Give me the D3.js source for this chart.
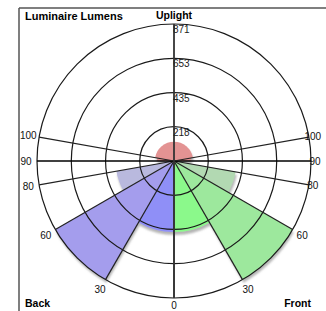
<!DOCTYPE html>
<html>
<head>
<meta charset="utf-8">
<script src="https://cdn.jsdelivr.net/npm/d3@7"></script>
<style>
  body { margin: 0; background: #fff; }
  svg text { font-family: "Liberation Sans", Arial, sans-serif; }
</style>
</head>
<body>
<svg id="chart" width="326" height="311"></svg>
<script>
// LCS zones, angles measured from nadir (0 = straight down)
var downBands = [[0, 30], [30, 60], [60, 80], [80, 90]];
var backLumens = [452, 871, 372, 0];     // BL, BM, BH, BVH
var frontLumens = [452, 871, 398, 0];    // FL, FM, FH, FVH
var upBands = [[90, 100], [100, 180]];
var upLumens = [108, 122];               // UL, UH
var backColors = ["#8f8ff7", "#a49ded", "#b9b9de", "#c8c8e8"];
var frontColors = ["#8bf98b", "#9de89d", "#b2d9b2", "#c8e8c8"];
var upColor = "#e39393";

var ringTicks = [218, 435, 653, 871];
var angleTicks = [0, 30, 60, 80, 90, 100];

var cx = 174, cy = 161, R = 137;
var svg = d3.select("#chart");

var r = d3.scaleLinear().domain([0, 871]).range([0, R]);
var rad = function(deg) { return deg * Math.PI / 180; };

// drop shadow like the original
var defs = svg.append("defs");
var f = defs.append("filter").attr("id", "shadow")
    .attr("x", "-20%").attr("y", "-20%").attr("width", "140%").attr("height", "140%");
f.append("feGaussianBlur").attr("in", "SourceAlpha").attr("stdDeviation", 0.8).attr("result", "b");
f.append("feOffset").attr("in", "b").attr("dx", 0.5).attr("dy", 2.5).attr("result", "o");
f.append("feFlood").attr("flood-color", "#777").attr("flood-opacity", 0.55).attr("result", "c");
f.append("feComposite").attr("in", "c").attr("in2", "o").attr("operator", "in").attr("result", "s");
var m = f.append("feMerge");
m.append("feMergeNode").attr("in", "s");
m.append("feMergeNode").attr("in", "SourceGraphic");

// frame
svg.append("line").attr("x1", 19).attr("y1", 8).attr("x2", 326).attr("y2", 8)
    .attr("stroke", "#555").attr("stroke-width", 1.5);
svg.append("line").attr("x1", 19).attr("y1", 8).attr("x2", 19).attr("y2", 311)
    .attr("stroke", "#555").attr("stroke-width", 1.5);

var g = svg.append("g").attr("transform", "translate(" + cx + "," + cy + ")");

var arc = d3.arc().innerRadius(0);

// wedges: right side (front) angle = pi - t, left side (back) angle = pi + t
var wedges = [];
downBands.forEach(function(b, i) {
  wedges.push({a0: Math.PI - rad(b[1]), a1: Math.PI - rad(b[0]), v: frontLumens[i], c: frontColors[i]});
  wedges.push({a0: Math.PI + rad(b[0]), a1: Math.PI + rad(b[1]), v: backLumens[i], c: backColors[i]});
});
upBands.forEach(function(b, i) {
  wedges.push({a0: Math.PI - rad(b[1]), a1: Math.PI - rad(b[0]), v: upLumens[i], c: upColor});
  wedges.push({a0: Math.PI + rad(b[0]), a1: Math.PI + rad(b[1]), v: upLumens[i], c: upColor});
});

g.append("g").attr("filter", "url(#shadow)")
  .selectAll("path").data(wedges.filter(function(d) { return d.v > 0; }))
  .enter().append("path")
  .attr("d", function(d) {
    return arc({outerRadius: r(d.v), startAngle: d.a0, endAngle: d.a1});
  })
  .attr("fill", function(d) { return d.c; });

// rings
g.selectAll("circle.ring").data(ringTicks).enter().append("circle")
  .attr("r", function(d) { return r(d); })
  .attr("fill", "none").attr("stroke", "#1a1a1a").attr("stroke-width", 1.2);

// spokes on both sides
var spokes = [];
angleTicks.forEach(function(t) {
  spokes.push({t: t, side: 1});
  if (t > 0) spokes.push({t: t, side: -1});
});
g.selectAll("line.spoke").data(spokes).enter().append("line")
  .attr("x1", 0).attr("y1", 0)
  .attr("x2", function(d) { return d.side * R * Math.sin(rad(d.t)); })
  .attr("y2", function(d) { return R * Math.cos(rad(d.t)); })
  .attr("stroke", function(d) { return d.t === 90 ? "#000" : "#222"; })
  .attr("stroke-width", function(d) { return d.t === 90 ? 1.3 : 1.2; });

// vertical axis
g.append("line").attr("x1", 0).attr("y1", -R).attr("x2", 0).attr("y2", R)
  .attr("stroke", "#333").attr("stroke-width", 1.8);

// angle labels (right-side wide angles sit tighter to the circle, as in the original)
function labR(d) {
  if (d.t === 0) return 144.5;
  if (d.side === 1 && d.t >= 80) return 141;
  return 148;
}
g.selectAll("text.ang").data(spokes).enter().append("text")
  .attr("x", function(d) { return d.side * labR(d) * Math.sin(rad(d.t)); })
  .attr("y", function(d) { return labR(d) * Math.cos(rad(d.t)); })
  .attr("dy", "0.35em")
  .attr("text-anchor", "middle")
  .attr("font-size", 10).attr("fill", "#111")
  .text(function(d) { return d.t; });

// ring labels
g.selectAll("text.ringlab").data(ringTicks).enter().append("text")
  .attr("x", -1).attr("y", function(d) { return -r(d) + 9; })
  .attr("font-size", 10).attr("fill", "#222")
  .text(function(d) { return d; });

// titles
svg.append("text").attr("x", 25).attr("y", 20).attr("font-size", 11).attr("font-weight", "bold")
  .text("Luminaire Lumens");
svg.append("text").attr("x", cx).attr("y", 19).attr("text-anchor", "middle")
  .attr("font-size", 10.5).attr("font-weight", "bold").text("Uplight");
svg.append("text").attr("x", 25).attr("y", 307).attr("font-size", 10.5).attr("font-weight", "bold")
  .text("Back");
svg.append("text").attr("x", 311).attr("y", 307).attr("text-anchor", "end")
  .attr("font-size", 10.5).attr("font-weight", "bold").text("Front");
</script>
</body>
</html>
